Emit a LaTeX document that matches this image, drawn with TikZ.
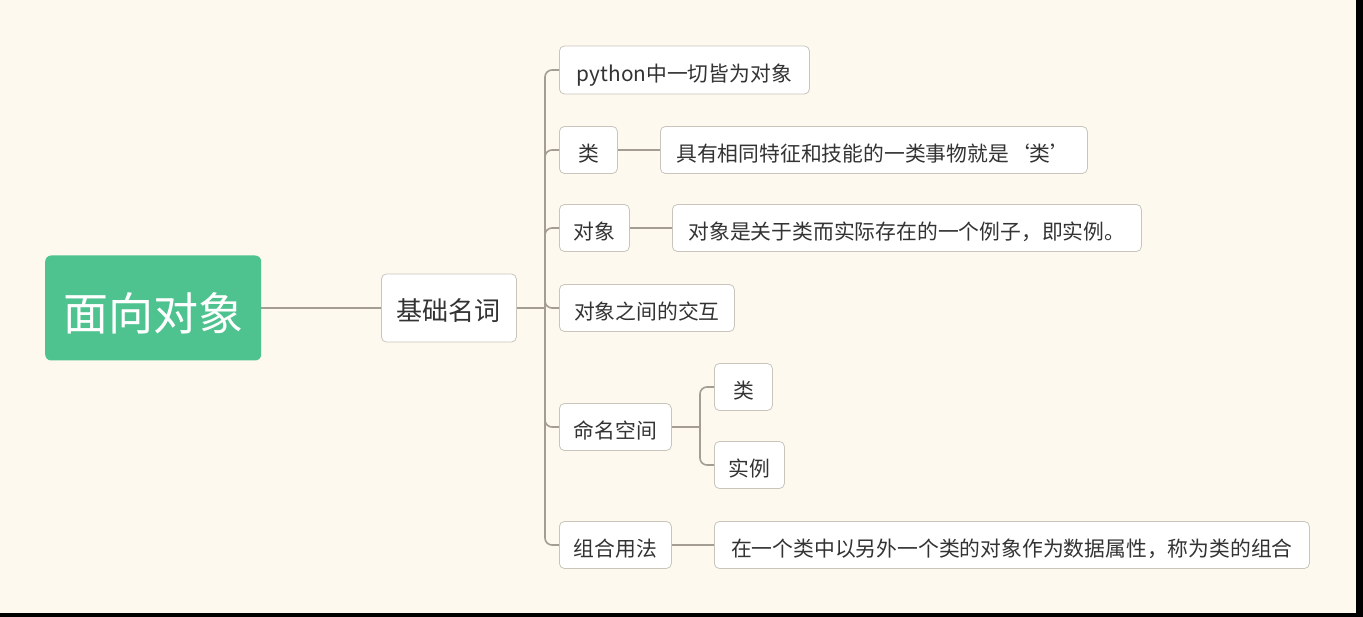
\documentclass[tikz,border=0pt]{standalone}
\usepackage{fontspec}
\setmainfont{Noto Sans CJK SC}
\definecolor{bg}{HTML}{FDF9EE}
\definecolor{rootgreen}{HTML}{4FC38F}
\definecolor{linecol}{HTML}{A39D94}
\definecolor{bordercol}{HTML}{C9C5BD}
\definecolor{textcol}{HTML}{333333}
\tikzset{
  box/.style={draw=bordercol, line width=0.8pt, fill=white, rounded corners=5pt, anchor=west,
    minimum height=47pt, inner sep=0pt, text=textcol, font=\fontsize{20.8}{24}\selectfont,
    text height=23pt, text depth=0pt},
  conn/.style={draw=linecol, line width=1.6pt, rounded corners=7pt},
}
\begin{document}
\begin{tikzpicture}[x=1pt,y=-1pt]
\fill[bg] (0,0) rectangle (1363,617);
\fill[black] (0,613) rectangle (1363,617);
\fill[black] (1356,0) rectangle (1363,617);
\useasboundingbox (0,0) rectangle (1363,617);

\node[fill=rootgreen, rounded corners=6pt, anchor=west, minimum width=216pt, minimum height=105pt,
  inner sep=0pt, text=white, font=\fontsize{45}{50}\selectfont, text height=46pt, text depth=0pt] (root) at (45,308) {面向对象};
\node[box, minimum width=135pt, minimum height=68pt, font=\fontsize{26}{30}\selectfont,
  text height=25pt, text depth=0pt] (kb) at (381,308) {基础名词};

\node[box, minimum width=250pt, minimum height=48pt] (py) at (559,70) {python中一切皆为对象};
\node[box, minimum width=58pt] (lei) at (559,150) {类};
\node[box, minimum width=427pt] (leid) at (660,150) {具有相同特征和技能的一类事物就是‘类’};
\node[box, minimum width=70pt] (dx) at (559,228) {对象};
\node[box, minimum width=469pt] (dxd) at (672,228) {对象是关于类而实际存在的一个例子，即实例。};
\node[box, minimum width=175pt] (jh) at (559,308) {对象之间的交互};
\node[box, minimum width=112pt] (mm) at (559,427) {命名空间};
\node[box, minimum width=58pt] (mlei) at (714,387) {类};
\node[box, minimum width=70pt] (msl) at (714,465) {实例};
\node[box, minimum width=112pt] (zh) at (559,545) {组合用法};
\node[box, minimum width=595pt] (zhd) at (714,545) {在一个类中以另外一个类的对象作为数据属性，称为类的组合};

\coordinate (t1) at (545,308);
\coordinate (t2) at (700,427);

\draw[conn, line width=2.2pt] (root.east) -- (kb.west);
\draw[conn] (kb.east) -- (t1);
\foreach \c in {py,lei,dx,jh,mm,zh} {\draw[conn] (t1) |- (\c.west);}
\draw[conn] (lei.east) -- (leid.west);
\draw[conn] (dx.east) -- (dxd.west);
\draw[conn] (mm.east) -- (t2);
\foreach \c in {mlei,msl} {\draw[conn] (t2) |- (\c.west);}
\draw[conn] (zh.east) -- (zhd.west);
\end{tikzpicture}
\end{document}
